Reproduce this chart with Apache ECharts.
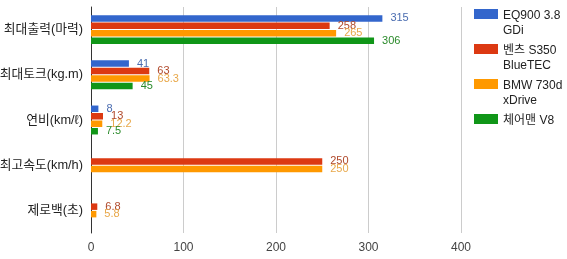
<!DOCTYPE html>
<html><head><meta charset="utf-8">
<script src="https://cdn.jsdelivr.net/npm/echarts@6/dist/echarts.min.js"></script>
<style>html,body{margin:0;padding:0;background:#fff}#c{width:567px;height:259px}</style>
</head><body><div id="c"></div>
<script>
const categories = ['최대출력(마력)', '최대토크(kg.m)', '연비(km/ℓ)', '최고속도(km/h)', '제로백(초)'];
const seriesNames = ['EQ900 3.8\nGDi', '벤츠 S350\nBlueTEC', 'BMW 730d\nxDrive', '체어맨 V8'];
const eq900 = [315, 41, 8, null, null];
const benz = [258, 63, 13, 250, 6.8];
const bmw = [265, 63.3, 12.2, 250, 5.8];
const chairman = [306, 45, 7.5, null, null];
const xTicks = [0, 100, 200, 300, 400];

const colors = ['#3366cc', '#dc3912', '#ff9900', '#109618'];
const labelColors = ['#4a6cb0', '#b0482a', '#e8a84a', '#2a8a2a'];
const values = [eq900, benz, bmw, chairman];
const FONT = '"Liberation Sans", Arial, "Noto Sans CJK KR", sans-serif';
const iconPath = 'path://M0,0H24V10H0Z M0,27.9H0.05V28H0Z';

const chart = echarts.init(document.getElementById('c'));
chart.setOption({
  animation: false,
  color: colors,
  grid: { left: 91, right: 106, top: 7, bottom: 26, containLabel: false, outerBoundsMode: 'none' },
  legend: {
    orient: 'vertical', left: 474, top: 8, itemGap: 5, padding: 0,
    itemWidth: 24, itemHeight: 28, icon: iconPath,
    textStyle: { fontFamily: FONT, fontSize: 12, color: '#222', lineHeight: 15 },
    formatter: n => n.indexOf('\n') >= 0 ? n : n + '\n ',
    data: seriesNames
  },
  xAxis: {
    type: 'value', min: xTicks[0], max: xTicks[xTicks.length - 1], interval: 100,
    axisLine: { show: false }, axisTick: { show: false },
    splitLine: { lineStyle: { color: '#cccccc', width: 1 } },
    axisLabel: { fontFamily: FONT, fontSize: 12, color: '#444', margin: 9 }
  },
  yAxis: {
    type: 'category', data: categories, inverse: true,
    axisLine: { lineStyle: { color: '#333', width: 1 } },
    axisTick: { show: false },
    axisLabel: { fontFamily: FONT, fontSize: 12.8, color: '#222', margin: 8 }
  },
  series: values.map((v, i) => ({
    name: seriesNames[i], type: 'bar', data: v,
    barCategoryGap: '36%', barGap: '15%',
    label: {
      show: true, position: 'right', distance: 8,
      fontFamily: FONT, fontSize: 11, color: labelColors[i],
      formatter: p => String(p.value)
    }
  }))
});
</script></body></html>
